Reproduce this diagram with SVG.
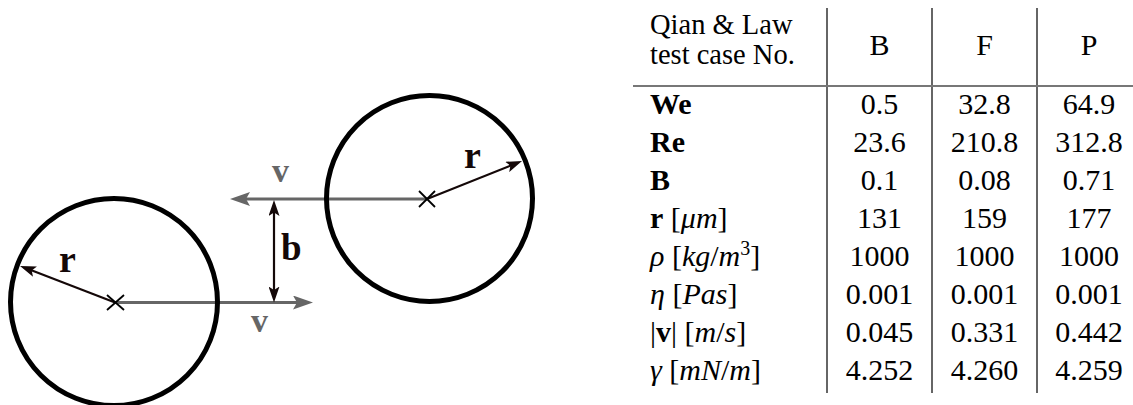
<svg xmlns="http://www.w3.org/2000/svg" width="1133" height="405" viewBox="0 0 1133 405">
<style>
.circ{fill:none;stroke:#000;stroke-width:5}
.vel{stroke:#666;stroke-width:3;fill:none}
.blk{stroke:#140808;stroke-width:2.2;fill:none}
.cross{stroke:#000;stroke-width:1.8}
.lbl{font-family:"Liberation Serif",serif;font-weight:bold;fill:#140808}
.vlbl{font-family:"Liberation Serif",serif;font-weight:bold;fill:#666;font-size:34px}
.t{font-family:"Liberation Serif",serif;font-size:30px;fill:#000}
.h{font-family:"Liberation Serif",serif;font-size:28.5px;fill:#000}
.c{text-anchor:middle}
.i{font-style:italic}
.b{font-weight:bold}
.vl{stroke:#333;stroke-width:1.5}
.hl{stroke:#777;stroke-width:1.8}
</style>
<defs>
<marker id="ag" viewBox="0 0 20 14" refX="10" refY="7" markerWidth="20" markerHeight="14" markerUnits="userSpaceOnUse" orient="auto-start-reverse">
<path d="M0,0 L20,7 L0,14 L4,7 Z" fill="#666"/>
</marker>
<marker id="ab" viewBox="0 0 16 11" refX="8" refY="5.5" markerWidth="16" markerHeight="11" markerUnits="userSpaceOnUse" orient="auto-start-reverse">
<path d="M0,0 L16,5.5 L0,11 L3.5,5.5 Z" fill="#140808"/>
</marker>
</defs>
<g id="connectors">
<line class="vel" x1="427" y1="199" x2="240" y2="199" marker-end="url(#ag)"/>
<line class="vel" x1="115" y1="302.5" x2="303" y2="302.5" marker-end="url(#ag)"/>
<line class="blk" x1="274" y1="208" x2="274" y2="294.5" marker-start="url(#ab)" marker-end="url(#ab)"/>
<line class="blk" x1="115" y1="302.5" x2="27.5" y2="268.8" marker-end="url(#ab)"/>
<line class="blk" x1="427" y1="199" x2="514.6" y2="164" marker-end="url(#ab)"/>
</g>
<g id="droplet-left">
<circle class="circ" cx="114" cy="302" r="103.5"/>
<line class="cross" x1="107" y1="295" x2="124" y2="310"/>
<line class="cross" x1="107" y1="310" x2="124" y2="295"/>
</g>
<g id="droplet-right">
<circle class="circ" cx="429.5" cy="198.5" r="103"/>
<line class="cross" x1="419" y1="191" x2="435" y2="207"/>
<line class="cross" x1="419" y1="207" x2="435" y2="191"/>
</g>
<g id="labels">
<text class="lbl" x="59" y="272" font-size="38">r</text>
<text class="lbl" x="464" y="168" font-size="38">r</text>
<text class="lbl" x="281" y="260" font-size="37">b</text>
<text class="vlbl" x="272" y="182">v</text>
<text class="vlbl" x="251" y="332">v</text>
</g>
<g id="table">
<line class="vl" x1="827" y1="8" x2="827" y2="393"/>
<line class="vl" x1="932" y1="8" x2="932" y2="393"/>
<line class="vl" x1="1037" y1="8" x2="1037" y2="393" stroke="#666"/>
<line class="hl" x1="633" y1="86" x2="1133" y2="86"/>
<text class="h" x="650" y="34">Qian &amp; Law</text>
<text class="h" x="650" y="64">test case No.</text>
<text class="t c" x="879.5" y="55">B</text>
<text class="t c" x="984.5" y="55">F</text>
<text class="t c" x="1089" y="55">P</text>

<text class="t b" x="650" y="113.5">We</text>
<text class="t c" x="879.5" y="113.5">0.5</text>
<text class="t c" x="984.5" y="113.5">32.8</text>
<text class="t c" x="1089" y="113.5">64.9</text>

<text class="t b" x="650" y="151.6">Re</text>
<text class="t c" x="879.5" y="151.6">23.6</text>
<text class="t c" x="984.5" y="151.6">210.8</text>
<text class="t c" x="1089" y="151.6">312.8</text>

<text class="t b" x="650" y="189.7">B</text>
<text class="t c" x="879.5" y="189.7">0.1</text>
<text class="t c" x="984.5" y="189.7">0.08</text>
<text class="t c" x="1089" y="189.7">0.71</text>

<text class="t" x="650" y="227.8"><tspan class="b">r</tspan> [<tspan class="i">μm</tspan>]</text>
<text class="t c" x="879.5" y="227.8">131</text>
<text class="t c" x="984.5" y="227.8">159</text>
<text class="t c" x="1089" y="227.8">177</text>

<text class="t" x="650" y="265.9"><tspan class="i">ρ</tspan> [<tspan class="i">kg</tspan>/<tspan class="i">m</tspan><tspan font-size="20" dy="-11">3</tspan><tspan dy="11">]</tspan></text>
<text class="t c" x="879.5" y="265.9">1000</text>
<text class="t c" x="984.5" y="265.9">1000</text>
<text class="t c" x="1089" y="265.9">1000</text>

<text class="t" x="650" y="304"><tspan class="i">η</tspan> [<tspan class="i">Pas</tspan>]</text>
<text class="t c" x="879.5" y="304">0.001</text>
<text class="t c" x="984.5" y="304">0.001</text>
<text class="t c" x="1089" y="304">0.001</text>

<text class="t" x="650" y="342">|<tspan class="b">v</tspan>| [<tspan class="i">m</tspan>/<tspan class="i">s</tspan>]</text>
<text class="t c" x="879.5" y="342">0.045</text>
<text class="t c" x="984.5" y="342">0.331</text>
<text class="t c" x="1089" y="342">0.442</text>

<text class="t" x="650" y="380"><tspan class="i">γ</tspan> [<tspan class="i">mN</tspan>/<tspan class="i">m</tspan>]</text>
<text class="t c" x="879.5" y="380">4.252</text>
<text class="t c" x="984.5" y="380">4.260</text>
<text class="t c" x="1089" y="380">4.259</text>
</g>
</svg>
